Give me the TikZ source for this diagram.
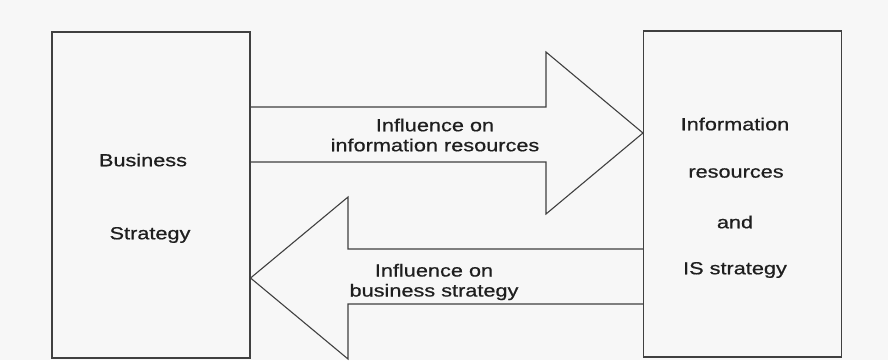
\documentclass[tikz,border=0pt]{standalone}
\usepackage{fontspec}
\setmainfont[FakeStretch=1.24,FakeBold=0.7]{Liberation Sans}
\begin{document}
\begin{tikzpicture}[x=1pt,y=-1pt,
  line/.style={draw=black!75,line width=1.1pt,line join=miter},
  lbl/.style={inner sep=0pt,text=black!88,font=\fontsize{17.5}{20}\selectfont,align=center},
  box/.style={line,inner sep=0pt,minimum width=198pt,minimum height=326pt}]
\fill[white!97!black] (0,0) rectangle (888,360);
\useasboundingbox (0,0) rectangle (888,360);
% boxes
\node[box] (L) at (151,195) {};
\node[box] (R) at (742.5,194) {};
% top arrow (to the right)
\draw[line] (L.east |- 0,107) -- (546,107) -- (546,52) -- (R.west |- 0,133)
  -- (546,214) -- (546,162) -- (L.east |- 0,162);
% bottom arrow (to the left)
\draw[line] (R.west |- 0,249) -- (348,249) -- (348,197) -- (L.east |- 0,278)
  -- (348,359) -- (348,304) -- (R.west |- 0,304);
% labels
\node[lbl] (t1) at (435,135) {Influence on\\information resources};
\node[lbl] (t2) at (434,282) {Influence on\\business strategy};
\node[lbl] (b1) at (143,160) {Business};
\node[lbl] (b2) at (150,235) {Strategy};
\node[lbl] (r1) at (735,124) {Information};
\node[lbl] (r2) at (736,173) {resources};
\node[lbl] (r3) at (735,222) {and};
\node[lbl] (r4) at (735,270) {IS strategy};
\end{tikzpicture}
\end{document}
